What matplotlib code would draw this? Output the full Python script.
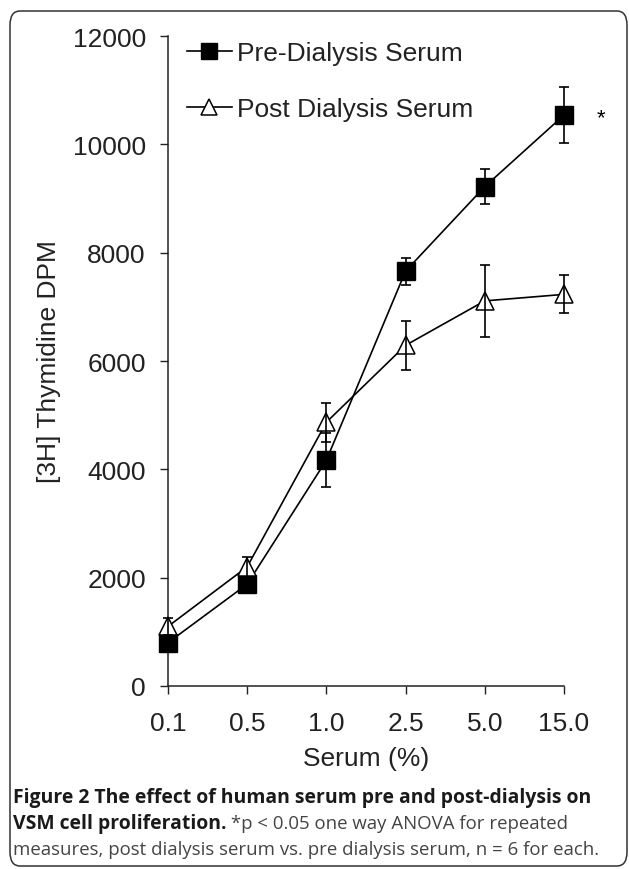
import matplotlib
matplotlib.use('Agg')
import matplotlib.pyplot as plt
from matplotlib.patches import FancyBboxPatch

# ---- data ----
serum_labels = ['0.1', '0.5', '1.0', '2.5', '5.0', '15.0']
pre_mean = [800, 1880, 4170, 7660, 9220, 10540]
pre_err = [150, 160, 500, 250, 330, 520]
post_mean = [1100, 2200, 4870, 6290, 7110, 7230]
post_err = [150, 190, 360, 450, 670, 350]
y_ticks = [0, 2000, 4000, 6000, 8000, 10000, 12000]
series_names = ['Pre-Dialysis Serum', 'Post Dialysis Serum']
x_label = 'Serum (%)'
y_label = '[3H] Thymidine DPM'
cap_bold1 = 'Figure 2 The effect of human serum pre and post-dialysis on'
cap_bold2 = 'VSM cell proliferation.'
cap_norm2 = ' *p < 0.05 one way ANOVA for repeated'
cap_norm3 = 'measures, post dialysis serum vs. pre dialysis serum, n = 6 for each.'

W, H = 629, 870
fig = plt.figure(figsize=(W / 100, H / 100), dpi=100)
fig.patch.set_facecolor('white')

# frame
frame = FancyBboxPatch((10 / W, 3 / H), 617 / W, 855 / H,
                       boxstyle='round,pad=0,rounding_size=0.016',
                       transform=fig.transFigure, facecolor='none',
                       edgecolor='#333333', linewidth=1.1)
fig.patches.append(frame)

ax = fig.add_axes([168 / W, 1 - 687 / H, (564 - 168) / W, (687 - 37) / H])
xs = list(range(len(serum_labels)))
fs = 19
fam = 'Liberation Sans'

lw = 1.2
e1 = ax.errorbar(xs, pre_mean, yerr=pre_err, fmt='none', ecolor='black',
                 elinewidth=lw, capsize=3.3, capthick=lw, zorder=3)
l1, = ax.plot(xs, pre_mean, '-', color='black', lw=lw, marker='s',
              markersize=13, markerfacecolor='black', markeredgecolor='black',
              zorder=4, label=series_names[0], clip_on=False)
l2, = ax.plot(xs, post_mean, '-', color='black', lw=lw, marker='^',
              markersize=13, markerfacecolor='white', markeredgecolor='black',
              markeredgewidth=1.1, zorder=4, label=series_names[1], clip_on=False)
e2 = ax.errorbar(xs, post_mean, yerr=post_err, fmt='none', ecolor='black',
                 elinewidth=lw, capsize=3.3, capthick=lw, zorder=5)
for e in (e1, e2):
    for art in e.lines[1]:
        art.set_clip_on(False)
    for art in e.lines[2]:
        art.set_clip_on(False)

ax.set_xlim(0, len(serum_labels) - 1)
ax.set_ylim(0, 12000)
ax.set_xticks(xs)
ax.set_xticklabels(serum_labels, fontsize=fs, family=fam, color='#222222')
ax.set_yticks(y_ticks)
ax.set_yticklabels([str(v) for v in y_ticks], fontsize=fs, family=fam, color='#222222')
for s in ['top', 'right']:
    ax.spines[s].set_visible(False)
for s in ['left', 'bottom']:
    ax.spines[s].set_linewidth(1.1)
    ax.spines[s].set_color('#222222')
ax.tick_params(axis='y', direction='out', length=6, width=1.0, pad=10, colors='#222222')
ax.tick_params(axis='x', direction='out', length=6, width=1.0, pad=12, colors='#222222')

ax.set_xlabel(x_label, fontsize=fs, family=fam, color='#222222', labelpad=8)
ax.set_ylabel(y_label, fontsize=fs, family=fam, color='#222222', labelpad=8)

leg = ax.legend(handles=[l1, l2], loc='upper left', bbox_to_anchor=(0.048, 0.992),
                frameon=False, prop={'family': fam, 'size': fs}, handlelength=1.7,
                handletextpad=0.2, labelspacing=1.2, borderpad=0, borderaxespad=0,
                markerscale=0.9)
for t in leg.get_texts():
    t.set_color('#222222')

ax.annotate('*', xy=(xs[-1], pre_mean[-1]), xytext=(27, -2), textcoords='offset points',
            ha='center', va='center', fontsize=16, family=fam, annotation_clip=False)

# caption
cfam = 'Open Sans'
fig.canvas.draw()
r = fig.canvas.get_renderer()

def fit(text, target_w, weight, x, y, color):
    t = fig.text(x, y, text, fontsize=12, family=cfam, weight=weight, color=color,
                 ha='left', va='center')
    w = t.get_window_extent(r).width
    t.set_fontsize(12 * target_w / w)
    return t

t1 = fit(cap_bold1, 577, 'bold', 13 / W, 1 - 798 / H, '#1a1a1a')
csize = t1.get_fontsize()
t3 = fit(cap_norm3, 582, 'normal', 13 / W, 1 - 850 / H, '#444444')
t2a = fig.text(13 / W, 1 - 824 / H, cap_bold2, fontsize=csize, family=cfam, weight='bold',
               color='#1a1a1a', ha='left', va='center')
wb = t2a.get_window_extent(r).width
t2b = fig.text((13 + wb) / W, 1 - 824 / H, cap_norm2, fontsize=t3.get_fontsize(), family=cfam,
               color='#444444', ha='left', va='center')

fig.savefig('out.png', dpi=100)
